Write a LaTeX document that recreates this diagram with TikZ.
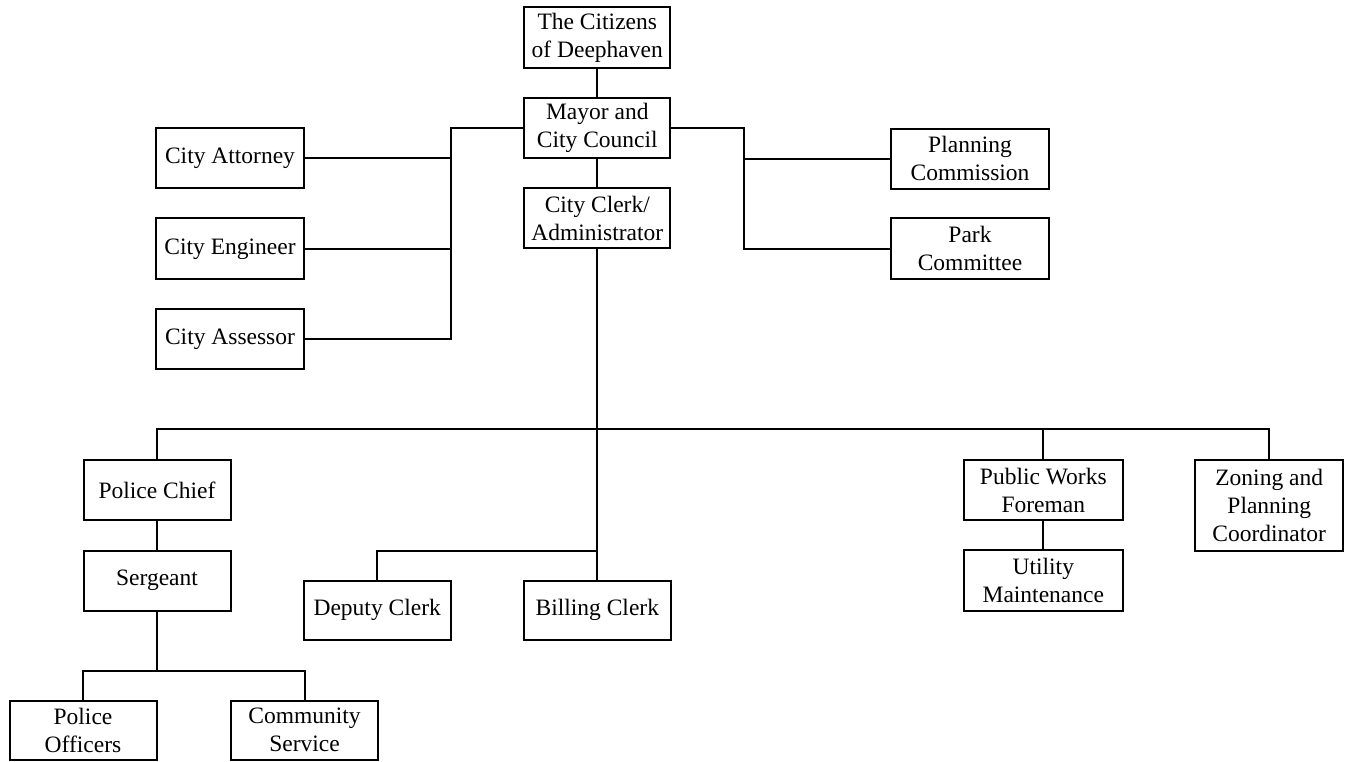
\documentclass[tikz,border=0pt]{standalone}
\usepackage{fontspec}
\setmainfont{Liberation Serif}
\begin{document}
\begin{tikzpicture}[x=1pt,y=-1pt,
  box/.style={draw,line width=2pt,rectangle,inner sep=0pt,align=center,
    minimum width=147pt,minimum height=60pt,font=\fontsize{23.5}{28}\selectfont},
  widebox/.style={box,minimum width=158.6pt},
  conn/.style={line width=2pt}]
\useasboundingbox (0,0) rectangle (1346,761);
\node[box,minimum width=146pt,minimum height=61pt] (cit) at (597.3,37.8) {The Citizens\\of Deephaven};
\node[box,minimum width=146pt] (mayor) at (597.3,128.3) {Mayor and\\City Council};
\node[box,minimum width=146pt] (clerk) at (597.3,218.3) {City Clerk/\\Administrator};
\node[box,minimum width=148pt] (att) at (230,158.3) {City Attorney};
\node[box,minimum width=148pt,minimum height=61pt] (eng) at (230,248.8) {City Engineer};
\node[box,minimum width=148pt] (ass) at (230,339) {City Assessor};
\node[widebox] (plan) at (970,158.7) {Planning\\Commission};
\node[widebox,minimum height=61pt] (park) at (970,248.8) {Park\\Committee};
\node[box] (pchief) at (157,490) {Police Chief};
\node[box] (serg) at (157,580.7) {Sergeant};
\node[box,minimum height=59.3pt] (poff) at (83,730.3) {Police\\Officers};
\node[box,minimum height=59.3pt] (comm) at (304.5,730.3) {Community\\Service};
\node[box,minimum height=59.3pt] (dep) at (377.2,610.3) {Deputy Clerk};
\node[box,minimum height=59.3pt] (bill) at (597.3,610.3) {Billing Clerk};
\node[widebox] (pw) at (1043.3,490) {Public Works\\Foreman};
\node[widebox,minimum height=60.7pt] (util) at (1043.3,580.3) {Utility\\Maintenance};
\node[box,minimum width=148.3pt,minimum height=90.7pt] (zon) at (1269.2,505.3) {Zoning and\\Planning\\Coordinator};
\coordinate (lj) at (451,128.3);
\coordinate (rj) at (744,128.3);
\coordinate (bus) at (597.3,429.3);
\coordinate (dj) at (597.3,550.7);
\coordinate (sj) at (157,670.7);
\draw[conn] (cit.south) -- (mayor.north);
\draw[conn] (mayor.south) -- (clerk.north);
\draw[conn] (mayor.west) -- (lj) |- (ass.east);
\draw[conn] (att.east) -- (att.east -| lj);
\draw[conn] (eng.east) -- (eng.east -| lj);
\draw[conn] (mayor.east) -- (rj) |- (park.west);
\draw[conn] (plan.west) -- (plan.west -| rj);
\draw[conn] (clerk.south) -- (bill.north);
\draw[conn] (pchief.north) |- (bus) -| (zon.north);
\draw[conn] (pw.north) -- (pw.north |- bus);
\draw[conn] (dep.north) |- (dj);
\draw[conn] (pchief.south) -- (serg.north);
\draw[conn] (serg.south) -- (sj);
\draw[conn] (poff.north) |- (sj) -| (comm.north);
\draw[conn] (pw.south) -- (util.north);
\end{tikzpicture}
\end{document}
